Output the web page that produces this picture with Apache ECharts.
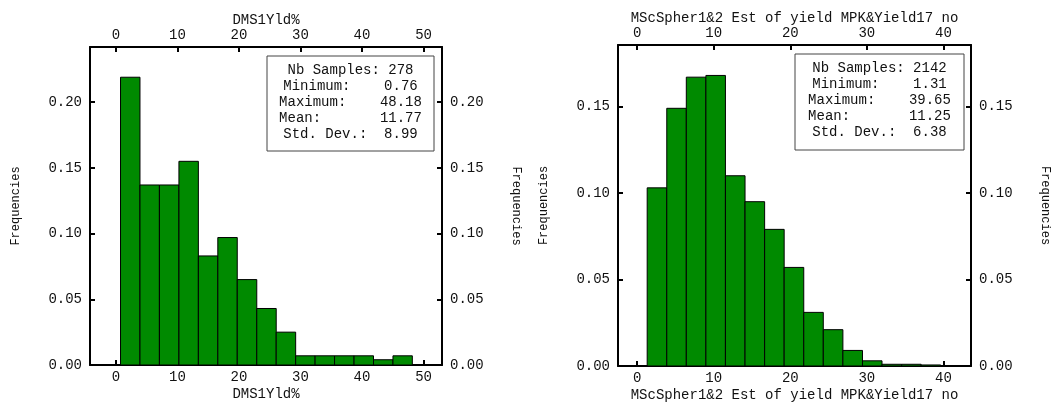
<!DOCTYPE html>
<html>
<head>
<meta charset="utf-8">
<style>
  html, body { margin: 0; padding: 0; background: #fff; }
  #chart { width: 1053px; height: 403px; }
</style>
<script src="https://cdn.jsdelivr.net/npm/echarts@6/dist/echarts.min.js"></script>
</head>
<body>
<div id="chart"></div>
<script>
// left histogram: DMS1Yld%
const leftEdges = [0.76, 3.92, 7.08, 10.25, 13.41, 16.57, 19.73, 22.90, 26.06, 29.22, 32.38, 35.54, 38.71, 41.87, 45.03, 48.18];
const leftFreq = [0.219, 0.137, 0.137, 0.155, 0.083, 0.097, 0.065, 0.043, 0.025, 0.007, 0.007, 0.007, 0.007, 0.004, 0.007];
const leftStats = ['278', '0.76', '48.18', '11.77', '8.99'];

// right histogram: MScSpher1&2 Est of yield MPK&Yield17 no
const rightEdges = [1.31, 3.87, 6.42, 8.98, 11.53, 14.09, 16.65, 19.20, 21.76, 24.31, 26.87, 29.43, 31.98, 34.54, 37.09, 39.65];
const rightFreq = [0.103, 0.149, 0.167, 0.168, 0.110, 0.095, 0.079, 0.057, 0.031, 0.021, 0.009, 0.003, 0.001, 0.001, 0.0006];
const rightStats = ['2142', '1.31', '39.65', '11.25', '6.38'];

const statLabels = ['Nb Samples:', 'Minimum:', 'Maximum:', 'Mean:', 'Std. Dev.:'];
const leftName = 'DMS1Yld%';
const rightName = 'MScSpher1&2 Est of yield MPK&Yield17 no';
const yName = 'Frequencies';

const FONT = '"Liberation Mono", "DejaVu Sans Mono", monospace';
const textCol = '#111';

function toBins(edges, freq) {
    return freq.map((f, i) => [edges[i], edges[i + 1], f]);
}

function statText(vals) {
    return statLabels.map((l, i) => l.padEnd(12, ' ') + vals[i]).join('\n');
}

function renderBar(params, api) {
    const p0 = api.coord([api.value(0), api.value(2)]);
    const p1 = api.coord([api.value(1), 0]);
    return {
        type: 'rect',
        shape: { x: p0[0], y: p0[1], width: p1[0] - p0[0], height: p1[1] - p0[1] },
        style: { fill: '#008a00', stroke: '#000', lineWidth: 1 }
    };
}

function xAxisDef(grid, pos, name, min, max) {
    const top = pos === 'top';
    return {
        type: 'value', gridIndex: grid, position: pos, min: min, max: max,
        name: name, nameLocation: 'middle', nameGap: top ? 20 : 22,
        nameMoveOverlap: false,
        nameTextStyle: { fontFamily: FONT, fontSize: 14, color: textCol },
        axisLine: { show: true, onZero: false, lineStyle: { color: '#000', width: 2 } },
        axisTick: { show: true, inside: true, length: 5, lineStyle: { color: '#000', width: 2 } },
        axisLabel: {
            fontFamily: FONT, fontSize: 14, color: textCol, margin: 5,
            showMinLabel: false, showMaxLabel: false,
            formatter: v => (Math.abs(v % 10) < 1e-6 ? String(v) : '')
        },
        splitLine: { show: false }
    };
}

function yAxisDef(grid, pos, max, rot) {
    const a = {
        type: 'value', gridIndex: grid, position: pos, min: 0, max: max, splitNumber: 4,
        name: yName, nameLocation: 'middle', nameGap: 68,
        nameTextStyle: { fontFamily: FONT, fontSize: 12, color: textCol },
        axisLine: { show: true, onZero: false, lineStyle: { color: '#000', width: 2 } },
        axisTick: { show: true, inside: true, length: 5, lineStyle: { color: '#000', width: 2 } },
        axisLabel: {
            fontFamily: FONT, fontSize: 14, color: textCol, margin: 8,
            showMaxLabel: false,
            formatter: v => (Math.abs((v * 100) % 5) < 1e-6 ? v.toFixed(2) : '')
        },
        splitLine: { show: false }
    };
    if (rot !== undefined) a.nameRotate = rot;
    return a;
}

function statBox(x, y, w, h, vals) {
    return {
        type: 'group',
        children: [
            { type: 'rect', shape: { x: x, y: y, width: w, height: h },
              style: { fill: '#fff', stroke: '#444', lineWidth: 1 } },
            { type: 'text', x: x + w / 2, y: y + 6,
              style: { text: statText(vals), fontFamily: FONT, fontSize: 14, fill: textCol,
                       align: 'center', verticalAlign: 'top', lineHeight: 16 } }
        ]
    };
}

const chart = echarts.init(document.getElementById('chart'));

const option = {
    animation: false,
    grid: [
        { left: 90, top: 47, width: 352, height: 318, outerBoundsMode: 'none', containLabel: false },
        { left: 618, top: 45, width: 353, height: 321, outerBoundsMode: 'none', containLabel: false }
    ],
    xAxis: [
        xAxisDef(0, 'bottom', leftName, -4.2, 53),
        xAxisDef(0, 'top', leftName, -4.2, 53),
        xAxisDef(1, 'bottom', rightName, -2.5, 43.6),
        xAxisDef(1, 'top', rightName, -2.5, 43.6)
    ],
    yAxis: [
        yAxisDef(0, 'left', 0.242),
        yAxisDef(0, 'right', 0.242, -90),
        yAxisDef(1, 'left', 0.1856),
        yAxisDef(1, 'right', 0.1856, -90)
    ],
    series: [
        { type: 'custom', xAxisIndex: 0, yAxisIndex: 0, renderItem: renderBar,
          encode: { x: [0, 1], y: 2 }, data: toBins(leftEdges, leftFreq) },
        { type: 'custom', xAxisIndex: 2, yAxisIndex: 2, renderItem: renderBar,
          encode: { x: [0, 1], y: 2 }, data: toBins(rightEdges, rightFreq) }
    ],
    graphic: [
        statBox(267, 56, 167, 95, leftStats),
        statBox(795, 54, 169, 96, rightStats)
    ]
};

option && chart.setOption(option);

window.addEventListener('resize', function () {
    chart.resize();
});
</script>
</body>
</html>
